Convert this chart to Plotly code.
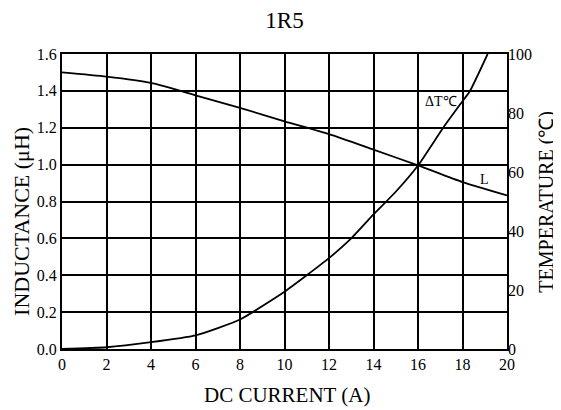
import plotly.graph_objects as go

current_a = [0, 2, 4, 6, 8, 10, 12, 14, 16, 18, 20]
inductance_uh = [1.50, 1.477, 1.443, 1.376, 1.308, 1.235, 1.165, 1.081, 0.996, 0.905, 0.833]

temp_current_a = [0, 2, 4, 6, 8, 10, 11, 12, 13, 14, 15, 16, 17.14, 18, 18.33, 19.13]
temp_rise_c = [0, 0.6, 2.3, 4.6, 10.0, 19.4, 25, 30.8, 37.5, 45.6, 53.3, 62.2, 75.1, 84.0, 87.4, 100]

x_ticks = [0, 2, 4, 6, 8, 10, 12, 14, 16, 18, 20]
y_ticks = [0.0, 0.2, 0.4, 0.6, 0.8, 1.0, 1.2, 1.4, 1.6]
y2_ticks = [0, 20, 40, 60, 80, 100]

FONT = "Liberation Serif"
tick_font = dict(family=FONT, size=16, color="black")

fig = go.Figure()
fig.add_trace(go.Scatter(x=current_a, y=inductance_uh, mode="lines",
                         line=dict(color="black", width=1.8, shape="spline", smoothing=0.6),
                         showlegend=False, hoverinfo="skip"))
fig.add_trace(go.Scatter(x=temp_current_a, y=temp_rise_c, mode="lines", yaxis="y2",
                         line=dict(color="black", width=1.8, shape="spline", smoothing=0.5),
                         showlegend=False, hoverinfo="skip"))

fig.add_annotation(x=17.05, y=1.345, text="ΔT℃", showarrow=False,
                   font=dict(family=FONT, size=14, color="black"))
fig.add_annotation(x=19.0, y=0.917, text="L", showarrow=False,
                   font=dict(family=FONT, size=14, color="black"))

# axis titles placed as paper annotations
fig.add_annotation(xref="paper", yref="paper", x=0.5056, y=-0.1557, text="DC CURRENT (A)",
                   showarrow=False, xanchor="center", yanchor="middle",
                   font=dict(family=FONT, size=21, color="black"))
fig.add_annotation(xref="paper", yref="paper", x=-0.0906, y=0.433, text="INDUCTANCE (μH)",
                   showarrow=False, xanchor="center", yanchor="middle", textangle=-90,
                   font=dict(family=FONT, size=22, color="black"))
fig.add_annotation(xref="paper", yref="paper", x=1.088, y=0.5, text="TEMPERATURE (℃)",
                   showarrow=False, xanchor="center", yanchor="middle", textangle=-90,
                   font=dict(family=FONT, size=20, color="black"))

# the page body adds an 8px offset, so the figure is 8px smaller than the window
fig.update_layout(
    width=553, height=402,
    margin=dict(l=54, r=54, t=46, b=61, autoexpand=False),
    paper_bgcolor="white", plot_bgcolor="white",
    font=dict(family=FONT, color="black", size=16),
    title=dict(text="1R5", x=0.5, xanchor="center", y=0.97, yanchor="middle",
               font=dict(family=FONT, size=23, color="black")),
    xaxis=dict(range=[0, 20], tickvals=x_ticks, ticktext=[str(v) for v in x_ticks],
               showgrid=True, gridcolor="black", gridwidth=1.5,
               showline=True, linecolor="black", linewidth=2, mirror=True,
               ticks="", zeroline=False, tickfont=tick_font, automargin=False),
    yaxis=dict(range=[0, 1.6], tickvals=y_ticks, ticktext=[f"{v:.1f}" for v in y_ticks],
               showgrid=True, gridcolor="black", gridwidth=1.5,
               showline=True, linecolor="black", linewidth=2, mirror=True,
               ticks="", zeroline=False, tickfont=tick_font, automargin=False),
    yaxis2=dict(range=[0, 100], tickvals=y2_ticks, ticktext=[str(v) for v in y2_ticks],
                overlaying="y", side="right", showgrid=False, zeroline=False,
                showline=False, ticks="", tickfont=tick_font, automargin=False),
)

fig.write_html("out.html")
